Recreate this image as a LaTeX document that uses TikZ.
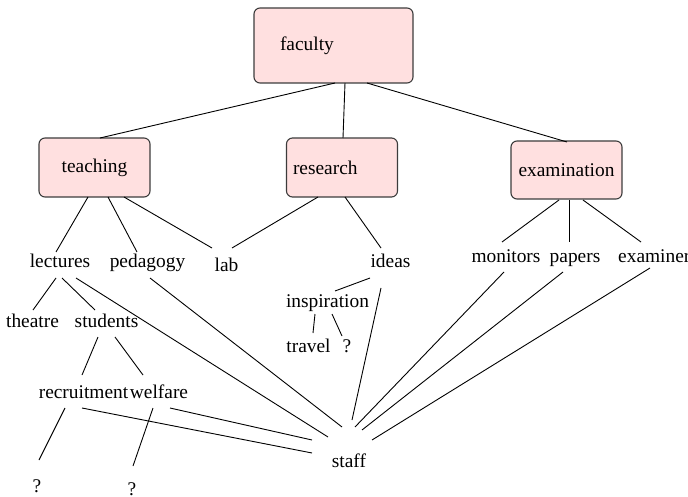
\documentclass[tikz,border=0pt]{standalone}
\usepackage{fontspec}
\setmainfont{Liberation Serif}
\definecolor{boxfill}{RGB}{255,224,224}
\definecolor{boxline}{RGB}{60,60,60}
\tikzset{
  box/.style={draw=boxline, fill=boxfill, rounded corners=6pt, line width=1.1pt,
    minimum width=111pt, minimum height=59pt, inner sep=0pt},
  lbl/.style={inner sep=0pt, text height=13pt, text depth=4pt, anchor=base},
  edge/.style={line width=0.9pt, black}
}
\newcommand{\link}[4]{\draw[edge] ([shift={(#2)}]#1) -- ([shift={(#4)}]#3);}
\begin{document}
\begin{tikzpicture}[x=1pt, y=-1pt, font=\fontsize{19.4pt}{23pt}\selectfont]
\useasboundingbox (0,0) rectangle (688,497);
\clip (0,0) rectangle (688,497);
% boxes
\node[box, minimum width=159pt, minimum height=75pt, text width=107pt, align=left, inner xsep=26pt] (faculty) at (333.5,45.5) {faculty};
\node[box] (teaching) at (94.5,167.5) {teaching};
\node[box, text width=98pt, align=left, inner xsep=6pt] (research) at (342,167.5) {research};
\node[box, minimum height=58pt] (examination) at (566.5,170) {examination};
% labels
\node[lbl] (lectures) at (60,267) {lectures};
\node[lbl] (pedagogy) at (147.5,267) {pedagogy};
\node[lbl] (lab) at (226.5,271) {lab};
\node[lbl] (ideas) at (390.5,267) {ideas};
\node[lbl] (monitors) at (506,262) {monitors};
\node[lbl] (papers) at (575,262) {papers};
\node[lbl, anchor=base west] (examiners) at (618,262) {examiners};
\node[lbl] (inspiration) at (327.5,307) {inspiration};
\node[lbl] (travel) at (308.5,352) {travel};
\node[lbl] (q1) at (347,352) {?};
\node[lbl] (theatre) at (32.5,327) {theatre};
\node[lbl] (students) at (106.5,327) {students};
\node[lbl] (recruitment) at (83.5,398) {recruitment};
\node[lbl] (welfare) at (159,398) {welfare};
\node[lbl] (staff) at (349,467) {staff};
\node[lbl, text depth=0.5pt] (q2) at (37,492) {?};
\node[lbl, text depth=0.5pt] (q3) at (132,495) {?};
% connectors
\link{faculty.center}{1.5,37.5}{teaching.center}{5.5,-29.5}
\link{faculty.center}{11.5,37.5}{research.center}{1,-29.5}
\link{faculty.center}{33.5,37.5}{examination.center}{0.5,-28}
\link{teaching.center}{-6.5,29.5}{lectures.base}{-4,-15}
\link{teaching.center}{13.5,29.5}{pedagogy.base}{-10.5,-15}
\link{teaching.center}{29.5,29.5}{lab.base}{-14.5,-23}
\link{research.center}{-24,29.5}{lab.base}{5.5,-23}
\link{research.center}{3,29.5}{ideas.base}{-9.5,-19}
\link{examination.center}{-7.5,30}{monitors.base}{-4,-20}
\link{examination.center}{2.5,30}{papers.base}{-6,-20}
\link{examination.center}{16.5,30}{examiners.base west}{23,-20}
\link{lectures.base}{-4,11}{theatre.base}{0.5,-17}
\link{lectures.base}{2,11}{students.base}{-11.5,-17}
\link{lectures.base}{16,11}{staff.base}{-21,-30}
\link{pedagogy.base}{2.5,11}{staff.base}{-7,-40}
\link{ideas.base}{-20.5,11}{inspiration.base}{7.5,-16}
\link{ideas.base}{-9.5,21}{staff.base}{3,-47}
\link{inspiration.base}{-12.5,7}{travel.base}{4.5,-19}
\link{inspiration.base}{4.5,7}{q1.base}{-5,-16}
\link{students.base}{-8.5,10}{recruitment.base}{-1.5,-23}
\link{students.base}{8.5,10}{welfare.base}{-16,-23}
\link{recruitment.base}{-18.5,10}{q2.base}{2,-32}
\link{recruitment.base}{-1.5,10}{staff.base}{-37,-14}
\link{welfare.base}{-6,10}{q3.base}{1,-29}
\link{welfare.base}{11,10}{staff.base}{-37,-27}
\link{monitors.base}{-2,10}{staff.base}{6,-40}
\link{papers.base}{-12,10}{staff.base}{13,-37}
\link{examiners.base west}{32,6}{staff.base}{23,-27}
\end{tikzpicture}
\end{document}
